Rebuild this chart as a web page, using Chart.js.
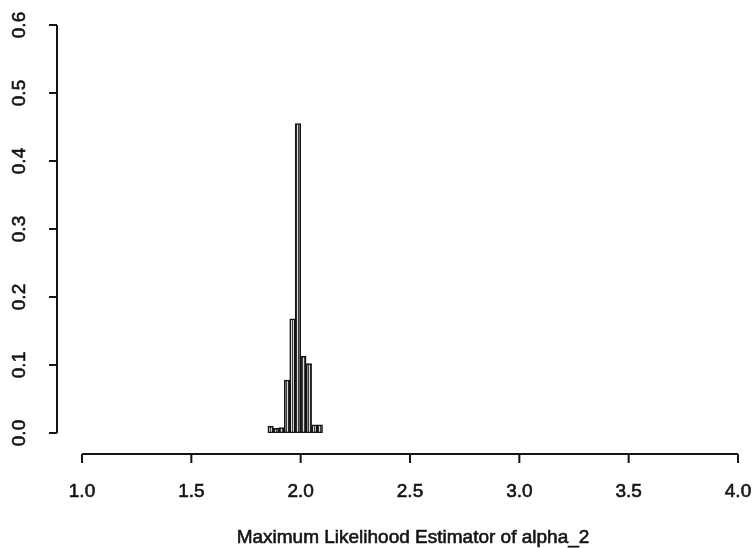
<!DOCTYPE html>
<html>
<head>
<meta charset="utf-8">
<script src="https://cdn.jsdelivr.net/npm/chart.js@4.4.0/dist/chart.umd.min.js"></script>
<style>
  html, body { margin: 0; background: #fff; }
  #wrap { width: 752px; height: 548px; position: relative; }
</style>
</head>
<body>
<div id="wrap"><canvas id="hist"></canvas></div>
<script>
// ====================== DATA ======================
const binLefts = [1.85, 1.875, 1.9, 1.925, 1.95, 1.975, 2.0, 2.025, 2.05, 2.075];
const binWidth = 0.025;
const proportions = [0.010, 0.007, 0.008, 0.078, 0.168, 0.455, 0.113, 0.102, 0.012, 0.012];

const xTicks = [1.0, 1.5, 2.0, 2.5, 3.0, 3.5, 4.0];
const yTicks = [0.0, 0.1, 0.2, 0.3, 0.4, 0.5, 0.6];
const xTitle = 'Maximum Likelihood Estimator of alpha_2';

const FONT = '19px "Liberation Sans", Arial, sans-serif';
const INK = '#141414';

// vertical hatching inside the bars
function stripePattern() {
  const c = document.createElement('canvas');
  c.width = 2; c.height = 1;
  const g = c.getContext('2d');
  g.fillStyle = '#3c3c3c'; g.fillRect(0, 0, 1, 1);
  g.fillStyle = '#dcdcdc'; g.fillRect(1, 0, 1, 1);
  return g.createPattern(c, 'repeat');
}

// slightly heavier text, like the printed original
function heavyText(ctx, s, x, y) {
  ctx.fillText(s, x, y);
  ctx.strokeText(s, x, y);
}

// ====================== AXES (R style, detached) ======================
const rAxes = {
  id: 'rAxes',
  afterDraw(chart) {
    const ctx = chart.ctx;
    const xs = chart.scales.x, ys = chart.scales.y;
    ctx.save();
    ctx.strokeStyle = INK;
    ctx.fillStyle = INK;
    ctx.lineWidth = 2;
    ctx.font = FONT;

    // y axis
    const ax = xs.left - 25;
    ctx.beginPath();
    ctx.moveTo(ax, ys.getPixelForValue(yTicks[0]));
    ctx.lineTo(ax, ys.getPixelForValue(yTicks[yTicks.length - 1]));
    yTicks.forEach(v => {
      const py = ys.getPixelForValue(v);
      ctx.moveTo(ax, py);
      ctx.lineTo(ax - 8, py);
    });
    ctx.stroke();

    ctx.lineWidth = 0.6;
    yTicks.forEach(v => {
      const py = ys.getPixelForValue(v);
      ctx.save();
      ctx.translate(20, py);
      ctx.rotate(-Math.PI / 2);
      ctx.textAlign = 'center';
      ctx.textBaseline = 'middle';
      heavyText(ctx, v.toFixed(1), 0, 0);
      ctx.restore();
    });

    // x axis
    const ay = ys.bottom + 21;
    ctx.lineWidth = 2;
    ctx.beginPath();
    ctx.moveTo(xs.getPixelForValue(xTicks[0]), ay);
    ctx.lineTo(xs.getPixelForValue(xTicks[xTicks.length - 1]), ay);
    xTicks.forEach(v => {
      const px = xs.getPixelForValue(v);
      ctx.moveTo(px, ay);
      ctx.lineTo(px, ay + 9);
    });
    ctx.stroke();

    ctx.lineWidth = 0.6;
    ctx.textAlign = 'center';
    ctx.textBaseline = 'middle';
    xTicks.forEach(v => heavyText(ctx, v.toFixed(1), xs.getPixelForValue(v), 492));
    heavyText(ctx, xTitle, (xs.left + xs.right) / 2 + 3, 538);
    ctx.restore();
  }
};

// ====================== CHART ======================
const ctx = document.getElementById('hist');
new Chart(ctx, {
  type: 'bar',
  data: {
    datasets: [{
      data: binLefts.map((l, i) => ({ x: l + binWidth / 2, y: proportions[i] })),
      backgroundColor: stripePattern(),
      borderColor: INK,
      borderWidth: 1.6,
      borderSkipped: false,
      barPercentage: 1,
      categoryPercentage: 1
    }]
  },
  options: {
    responsive: true,
    maintainAspectRatio: false,
    animation: false,
    layout: { padding: { left: 82, right: 14, top: 25, bottom: 115 } },
    scales: {
      x: { type: 'linear', min: 1, max: 4, display: false, offset: false },
      y: { min: 0, max: 0.6, display: false }
    },
    plugins: { legend: { display: false }, tooltip: { enabled: false } }
  },
  plugins: [rAxes]
});
</script>
</body>
</html>
